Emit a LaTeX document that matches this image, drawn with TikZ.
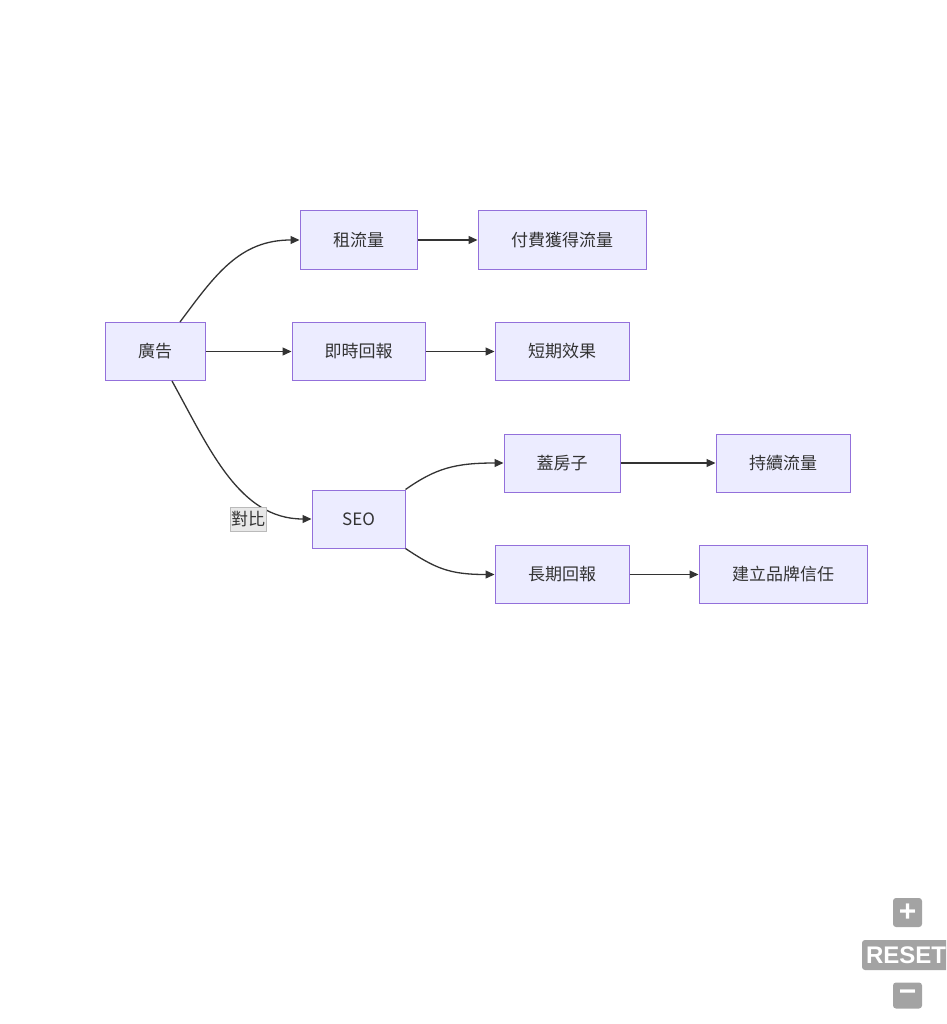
\documentclass[tikz,border=0pt]{standalone}
\usepackage{fontspec}
\setmainfont{Noto Sans CJK TC}
\newfontfamily\btnfont{Liberation Sans}
\usetikzlibrary{arrows.meta}
\definecolor{boxfill}{HTML}{ECECFF}
\definecolor{boxline}{HTML}{9370DB}
\definecolor{edgecol}{HTML}{333333}
\definecolor{lblfill}{HTML}{E8E8E8}
\definecolor{btnfill}{HTML}{A3A3A3}
\begin{document}
\begin{tikzpicture}[x=1pt, y=1pt,
box/.style={draw=boxline, fill=boxfill, line width=1pt, inner sep=0pt, minimum height=58pt, text=edgecol, font=\fontsize{17}{20}\selectfont},
edge/.style={draw=edgecol, line width=1.3pt, -{Triangle[length=9pt, width=8pt]}},
lbl/.style={fill=lblfill, draw=lblfill!80!black, line width=0.3pt, inner sep=0pt, minimum width=36pt, minimum height=24pt, text=edgecol, font=\fontsize{17}{20}\selectfont},
btn/.style={fill=btnfill, rounded corners=3pt, inner sep=0pt, text=white, font=\btnfont\bfseries}]
\clip (0,0) rectangle (946,-1024);
\node[box, minimum width=100pt] (nid0) at (155,-351.5){廣告};
\node[box, minimum width=117pt] (nid1) at (358.5,-240){租流量};
\node[box, minimum width=168pt] (nid2) at (562,-240){付費獲得流量};
\node[box, minimum width=133pt] (nid3) at (358.5,-351.5){即時回報};
\node[box, minimum width=134pt] (nid4) at (562,-351.5){短期效果};
\node[box, minimum width=93pt] (nid5) at (358.5,-519){SEO};
\node[box, minimum width=116pt] (nid6) at (562,-463){蓋房子};
\node[box, minimum width=134pt] (nid7) at (783,-463){持續流量};
\node[box, minimum width=134pt] (nid8) at (562,-574.5){長期回報};
\node[box, minimum width=168pt] (nid9) at (783,-574.5){建立品牌信任};
\draw[edge]([xshift=25pt]nid0.north) .. controls +(35,47) and +(-60,0) .. (nid1.west);
\draw[edge](nid1.east) -- (nid2.west);
\draw[edge](nid0.east) -- (nid3.west);
\draw[edge](nid3.east) -- (nid4.west);
\draw[edge]([xshift=17pt]nid0.south) .. controls +(38,-69) and +(-72,0) .. (nid5.west);
\node[lbl] (lid0) at (248,-519){對比};
\draw[edge](nid5.north east) .. controls +(30,21) and +(-49,0) .. (nid6.west);
\draw[edge](nid6.east) -- (nid7.west);
\draw[edge](nid5.south east) .. controls +(30,-20) and +(-45,0) .. (nid8.west);
\draw[edge](nid8.east) -- (nid9.west);

\node[btn, minimum width=29pt, minimum height=29pt, font=\btnfont\bfseries\fontsize{30}{30}\selectfont] (btn0) at (907.5,-912.5){+};
\node[btn, minimum width=88pt, minimum height=30pt, font=\btnfont\bfseries\fontsize{24}{24}\selectfont] (btn1) at (906,-955){RESET};
\node[btn, minimum width=29pt, minimum height=26pt, font=\btnfont\bfseries\fontsize{30}{30}\selectfont] (btn2) at (907.5,-995.5){−};
\end{tikzpicture}
\end{document}
